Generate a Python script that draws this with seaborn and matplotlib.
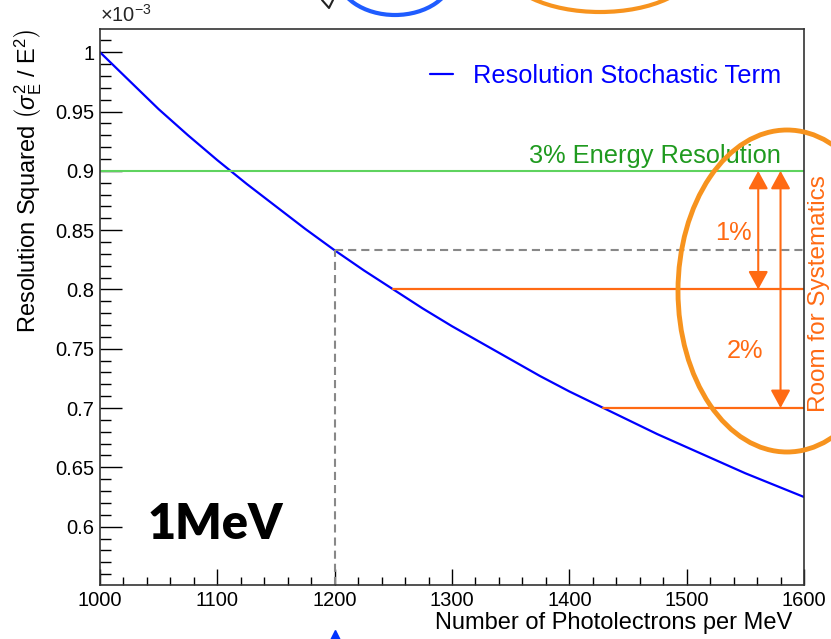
import matplotlib
matplotlib.use("Agg")
import matplotlib.pyplot as plt
import seaborn as sns
from matplotlib.patches import Ellipse
from matplotlib.lines import Line2D
from matplotlib.ticker import MultipleLocator, FixedLocator, FuncFormatter

sns.set_theme(style="white")
plt.rcParams['font.family'] = ['Liberation Sans', 'DejaVu Sans']
plt.rcParams['mathtext.fontset'] = 'custom'
plt.rcParams['mathtext.rm'] = 'Liberation Sans'
plt.rcParams['mathtext.it'] = 'Liberation Sans:italic'
plt.rcParams['mathtext.bf'] = 'Liberation Sans:bold'

# values (resolution squared, x1e-3)
photoelectrons = [1000, 1025, 1050, 1075, 1100, 1125, 1150, 1175, 1200, 1225, 1250, 1275, 1300,
                  1325, 1350, 1375, 1400, 1425, 1450, 1475, 1500, 1525, 1550, 1575, 1600]
res_squared = [1.000, 0.976, 0.952, 0.930, 0.909, 0.889, 0.870, 0.851, 0.833, 0.816, 0.800, 0.784, 0.769,
               0.755, 0.741, 0.727, 0.714, 0.702, 0.690, 0.678, 0.667, 0.656, 0.645, 0.635, 0.625]

target_3pct = 0.90
n_pe_chosen = 1200
res_chosen = 0.833
syst_levels = [0.80, 0.70]
syst_start = [1250, 1428.6]
syst_labels = ["1%", "2%"]
arrow_x = [1561, 1580]

x_ticks = [1000, 1100, 1200, 1300, 1400, 1500, 1600]
y_ticks = [0.6, 0.65, 0.7, 0.75, 0.8, 0.85, 0.9, 0.95, 1.0]

W, H = 831, 639
fig = plt.figure(figsize=(W / 100, H / 100), dpi=100, facecolor='white')
ax = fig.add_axes([100 / W, 1 - 585 / H, 704 / W, 556 / H])

orange = '#ff6a13'
fs_note = 18.3

sns.lineplot(x=photoelectrons, y=res_squared, color='#0000ff', lw=1.6, ax=ax,
             label='Resolution Stochastic Term')

ax.axhline(target_3pct, color='#5fd35f', lw=1.5)
ax.text(1580.4, 0.9067, "3% Energy Resolution", color='#1f9a1f', fontsize=fs_note,
        ha='right', va='baseline')

dash = (0, (3.9, 2.4))
ax.plot([n_pe_chosen, n_pe_chosen], [0.5508, res_chosen], color='#888888', lw=1.5, ls=dash)
ax.plot([n_pe_chosen, 1600], [res_chosen, res_chosen], color='#888888', lw=1.5, ls=dash)

for lvl, x0 in zip(syst_levels, syst_start):
    ax.plot([x0, 1600], [lvl, lvl], color=orange, lw=1.6)

for xa, lvl in zip(arrow_x, syst_levels):
    ax.annotate("", xy=(xa, lvl), xytext=(xa, target_3pct),
                arrowprops=dict(arrowstyle="<|-|>,head_length=1.1,head_width=0.6",
                                color=orange, lw=1.5, shrinkA=0, shrinkB=0,
                                mutation_scale=10))

ax.text(1540, 0.8417, syst_labels[0], color=orange, fontsize=fs_note, ha='center', va='baseline')
ax.text(1549.7, 0.7422, syst_labels[1], color=orange, fontsize=fs_note, ha='center', va='baseline')

ax.text(1040.9, 0.5896, "1MeV", family='Lato', fontweight='heavy', fontsize=35,
        color='black', ha='left', va='baseline')

ax.set_xlim(1000, 1600)
ax.set_ylim(0.5508, 1.0196)
ax.xaxis.set_major_locator(FixedLocator(x_ticks))
ax.xaxis.set_minor_locator(MultipleLocator(20))
ax.yaxis.set_major_locator(FixedLocator(y_ticks))
ax.yaxis.set_minor_locator(MultipleLocator(0.01))
ax.yaxis.set_major_formatter(FuncFormatter(lambda v, p: f"{v:g}"))
ax.tick_params(axis='both', which='both', direction='in', labelsize=14.5, colors='black',
               bottom=True, left=True, top=False, right=False, pad=4)
ax.tick_params(axis='y', which='major', length=16, width=1)
ax.tick_params(axis='y', which='minor', length=8, width=1)
ax.tick_params(axis='x', which='major', length=11.5, width=1)
ax.tick_params(axis='x', which='minor', length=6, width=1)
for s in ax.spines.values():
    s.set_color('#333333')
    s.set_linewidth(1.2)

ax.set_xlabel("Number of Photolectrons per MeV", fontsize=17, color='black')
ax.xaxis.set_label_coords(0.984, -0.048)
ax.xaxis.label.set_ha('right')
ax.xaxis.label.set_va('top')
ax.set_ylabel(r"Resolution Squared $\left(\sigma_{\mathrm{E}}^{2}\ /\ \mathrm{E}^{2}\right)$",
              fontsize=17, color='black')
ax.yaxis.set_label_coords(-0.08, 1.0)
ax.yaxis.label.set_ha('right')

leg = ax.legend(loc='center right', bbox_to_anchor=(0.967, 0.9155), frameon=False,
                fontsize=fs_note, handlelength=0.9, handletextpad=0.77, borderpad=0,
                borderaxespad=0, labelcolor='#0000ff')

fig.text(100 / W, 1 - 22 / H, r"$\times10^{-3}$", fontsize=14.5, ha='left', va='baseline')

# hand-drawn annotations on top of the plot
fig.text(819 / W, 1 - 412 / H, "Room for Systematics", color=orange, fontsize=17.5,
         rotation=90, ha='center', va='bottom')
fig.add_artist(Ellipse((787 / W, 1 - 291 / H), 218 / W, 322 / H, angle=0,
                       fill=False, ec='#f7931e', lw=3.5, transform=fig.transFigure))
fig.add_artist(Ellipse((395 / W, 1 + 25 / H), 115 / W, 80 / H, fill=False, ec='#1f5cff',
                       lw=3, transform=fig.transFigure))
fig.add_artist(Ellipse((600 / W, 1 + 33 / H), 190 / W, 90 / H, fill=False, ec='#f7931e',
                       lw=3, transform=fig.transFigure))
fig.add_artist(Line2D([322 / W, 329 / W, 333 / W], [1 - 0 / H, 1 - 8 / H, 1 - 0 / H],
                      color='#222222', lw=1.5, transform=fig.transFigure))
fig.add_artist(Line2D([335 / W], [1 - 636 / H], marker='^', markersize=8, color='#0033ff',
                      ls='none', transform=fig.transFigure))

fig.savefig("out.png", dpi=100, facecolor='white')
